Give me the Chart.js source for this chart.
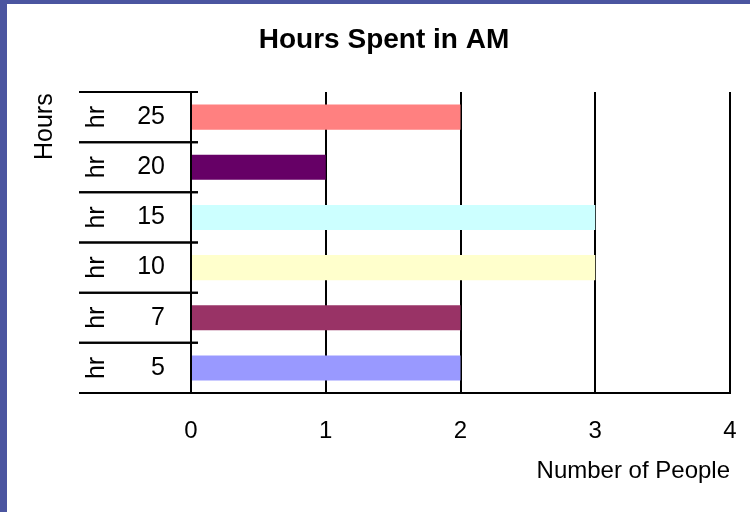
<!DOCTYPE html>
<html>
<head>
<meta charset="utf-8">
<title>Hours Spent in AM</title>
<script src="https://cdn.jsdelivr.net/npm/chart.js@4.4.1/dist/chart.umd.min.js"></script>
<style>
    html, body { margin: 0; padding: 0; }
    body { width: 750px; height: 512px; background: #4b55a0; position: relative; overflow: hidden; }
    #panel { position: absolute; left: 7px; top: 4px; width: 743px; height: 508px; background: #fff; }
</style>
</head>
<body>
<div id="panel"><canvas id="hoursChart"></canvas></div>
<script>
// chart data
const hours = ['5', '7', '10', '15', '20', '25'];
const people = [2, 2, 3, 3, 1, 2];
const barColors = ['#9999ff', '#993366', '#ffffcc', '#ccffff', '#660066', '#ff8080'];
const peopleTicks = [0, 1, 2, 3, 4];
const unitLabel = 'hr';

const fontFamily = '"Liberation Sans", Arial, Helvetica, sans-serif';

// category separators, the rotated "hr" and the clipped "Hours" axis title
const axisDecor = {
    id: 'axisDecor',
    afterDraw(chart) {
        const ctx = chart.ctx;
        const y = chart.scales.y;
        const area = chart.chartArea;
        const step = Math.abs(y.getPixelForValue(1) - y.getPixelForValue(0));

        ctx.save();
        ctx.strokeStyle = '#000';
        ctx.lineWidth = 2;
        ctx.fillStyle = '#000';
        ctx.font = '25px ' + fontFamily;
        ctx.textAlign = 'center';
        ctx.textBaseline = 'middle';
        hours.forEach((h, i) => {
            const c = y.getPixelForValue(i);
            [c - step / 2, c + step / 2].forEach(py => {
                ctx.beginPath();
                ctx.moveTo(area.left - 112, py);
                ctx.lineTo(area.left + 7, py);
                ctx.stroke();
            });
            ctx.save();
            ctx.translate(area.left - 94, c);
            ctx.rotate(-Math.PI / 2);
            ctx.fillText(unitLabel, 0, 0);
            ctx.restore();
        });

        // y axis title, cut off at the top of the plot
        ctx.beginPath();
        ctx.rect(0, area.top + 2, area.left, chart.height - area.top);
        ctx.clip();
        ctx.translate(area.left - 146, area.top + 68);
        ctx.rotate(-Math.PI / 2);
        ctx.font = '25px ' + fontFamily;
        ctx.textAlign = 'left';
        ctx.fillText('Hours', 0, 0);
        ctx.restore();
    }
};

new Chart(document.getElementById('hoursChart').getContext('2d'), {
    type: 'bar',
    data: {
        labels: hours,
        datasets: [{
            data: people,
            backgroundColor: barColors,
            barPercentage: 0.5,
            categoryPercentage: 1
        }]
    },
    options: {
        indexAxis: 'y',
        responsive: true,
        maintainAspectRatio: false,
        animation: false,
        layout: { padding: { left: 31, right: 20, top: 0, bottom: 0 } },
        plugins: {
            legend: { display: false },
            tooltip: { enabled: false },
            title: {
                display: true,
                text: 'Hours Spent in AM',
                color: '#000',
                font: { family: fontFamily, size: 28, weight: 'bold' },
                padding: { top: 19, bottom: 35.4 }
            }
        },
        scales: {
            x: {
                min: 0,
                max: 4,
                z: 1,
                afterBuildTicks: s => { s.ticks = peopleTicks.map(v => ({ value: v })); },
                grid: { color: '#000', lineWidth: 2, drawTicks: false },
                border: { display: true, color: '#000', width: 2 },
                ticks: {
                    padding: 24,
                    color: '#000',
                    font: { family: fontFamily, size: 24 }
                },
                title: {
                    display: true,
                    text: 'Number of People',
                    align: 'end',
                    color: '#000',
                    font: { family: fontFamily, size: 24 },
                    padding: { top: 0, bottom: 26 }
                },
                afterFit: s => {
                    s.height = 119;
                    s.paddingLeft = 0;
                    s.paddingRight = 0;
                }
            },
            y: {
                reverse: true,
                grid: { drawOnChartArea: false, drawTicks: false },
                border: { display: true, color: '#000', width: 2 },
                ticks: {
                    padding: 26,
                    color: '#000',
                    font: { family: fontFamily, size: 25 }
                },
                afterFit: s => { s.width = 153; }
            }
        }
    },
    plugins: [axisDecor]
});
</script>
</body>
</html>
